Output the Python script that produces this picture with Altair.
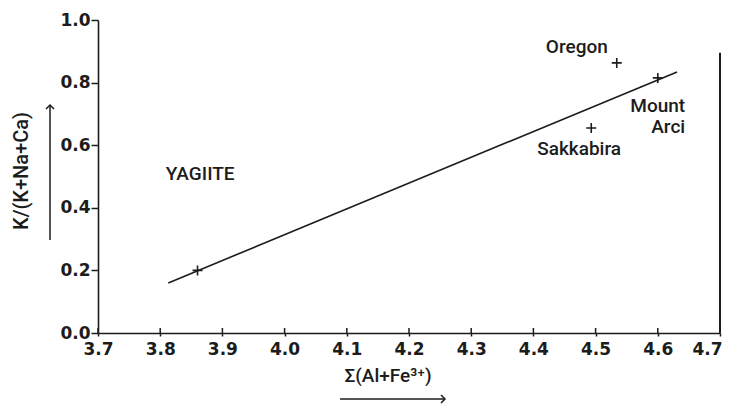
import altair as alt
import pandas as pd

# ---- data ----
x_ticks = [3.7, 3.8, 3.9, 4.0, 4.1, 4.2, 4.3, 4.4, 4.5, 4.6, 4.7]
y_ticks = [0.0, 0.2, 0.4, 0.6, 0.8, 1.0]

sample_names = ["YAGIITE", "Oregon", "Sakkabira", "Mount Arci"]
sample_x = [3.86, 4.534, 4.493, 4.60]
sample_y = [0.20, 0.863, 0.655, 0.815]

fit_x = [3.813, 4.631]
fit_y = [0.16, 0.834]

label_text = ["YAGIITE", "Oregon", "Sakkabira", "Mount", "Arci"]
label_x = [3.809, 4.420, 4.406, 4.644, 4.644]
label_y = [0.489, 0.895, 0.569, 0.706, 0.639]
label_align = ["left", "left", "left", "right", "right"]

frame_x = [4.7]
frame_y_top = [0.895]

TICKFONT = "DejaVu Sans"
FONT = "Roboto"
INK = "#1c1c1c"

xs = alt.Scale(domain=[3.7, 4.7], nice=False, zero=False)
ys = alt.Scale(domain=[0.0, 1.0], nice=False, zero=False)

pts = pd.DataFrame({"name": sample_names, "x": sample_x, "y": sample_y})
fit = pd.DataFrame({"x": fit_x, "y": fit_y})
lab = pd.DataFrame({"t": label_text, "x": label_x, "y": label_y, "a": label_align})
ticks = pd.DataFrame({"x": x_ticks})
frame = pd.DataFrame({"x": frame_x, "y": [0.0], "y2": frame_y_top})
one = pd.DataFrame({"k": [0]})

base_axes = alt.Chart(fit).mark_line(color=INK, strokeWidth=1.6).encode(
    x=alt.X("x:Q", scale=xs,
            axis=alt.Axis(values=x_ticks, format=".1f", title=None, grid=False,
                          labelFont=TICKFONT, labelFontSize=17, labelFontWeight="bold",
                          labelColor=INK,
                          domainColor=INK, domainWidth=1.6, tickColor=INK,
                          tickWidth=1.5, tickSize=3, labelPadding=5,
                          labelFlush=False,
                          labelAlign=alt.expr("datum.value > 4.65 ? 'right' : 'center'"),
                          labelOffset=alt.expr("datum.value > 4.65 ? 2 : 0"))),
    y=alt.Y("y:Q", scale=ys,
            axis=alt.Axis(values=y_ticks, format=".1f", title=None, grid=False,
                          labelFont=TICKFONT, labelFontSize=17, labelFontWeight="bold",
                          labelColor=INK,
                          domainColor=INK, domainWidth=1.6, tickColor=INK,
                          tickWidth=1.5, tickSize=7, labelPadding=1,
                          labelFlush=False)),
)

plus_path = "M-1,0L1,0M0,-1L0,1"
markers = alt.Chart(pts).mark_point(shape=plus_path, filled=False, size=100,
                                    color=INK, strokeWidth=1.6, opacity=1).encode(
    x=alt.X("x:Q", scale=xs), y=alt.Y("y:Q", scale=ys))

inner_ticks = alt.Chart(ticks).mark_rule(color=INK, strokeWidth=1.5).encode(
    x=alt.X("x:Q", scale=xs), y=alt.value(313), y2=alt.value(308))

frame_line = alt.Chart(frame).mark_rule(color=INK, strokeWidth=2).encode(
    x=alt.X("x:Q", scale=xs), y=alt.Y("y:Q", scale=ys), y2="y2:Q")

labels_left = alt.Chart(lab[lab.a == "left"]).mark_text(
    font=FONT, fontSize=19, fontWeight=500, color=INK, align="left",
    baseline="alphabetic").encode(
    x=alt.X("x:Q", scale=xs), y=alt.Y("y:Q", scale=ys), text="t:N")
labels_right = alt.Chart(lab[lab.a == "right"]).mark_text(
    font=FONT, fontSize=19, fontWeight=500, color=INK, align="right",
    baseline="alphabetic").encode(
    x=alt.X("x:Q", scale=xs), y=alt.Y("y:Q", scale=ys), text="t:N")

# axis titles and arrows (outside the plot area)
y_title = alt.Chart(one).mark_text(text="K/(K+Na+Ca)", font=FONT, fontSize=20,
                                   fontWeight=500, color=INK, angle=270,
                                   align="center", baseline="middle").encode(
    x=alt.value(-76), y=alt.value(151))
x_title = alt.Chart(one).mark_text(text="Σ(Al+Fe³⁺)", font=FONT, fontSize=19,
                                   fontWeight=500, color=INK, align="center",
                                   baseline="middle").encode(
    x=alt.value(290), y=alt.value(356))

y_shaft = alt.Chart(one).mark_rule(color=INK, strokeWidth=1.5).encode(
    x=alt.value(-48), y=alt.value(220), y2=alt.value(86))
y_head = alt.Chart(one).mark_point(shape="M-1,1L0,0L1,1", filled=False, size=64,
                                   color=INK, strokeWidth=1.5, opacity=1).encode(
    x=alt.value(-48), y=alt.value(85))
x_shaft = alt.Chart(one).mark_rule(color=INK, strokeWidth=1.5).encode(
    x=alt.value(242), x2=alt.value(346), y=alt.value(379))
x_head = alt.Chart(one).mark_point(shape="M-1,-1L0,0L-1,1", filled=False, size=64,
                                   color=INK, strokeWidth=1.5, opacity=1).encode(
    x=alt.value(347), y=alt.value(379))

chart = alt.layer(
    base_axes, inner_ticks, frame_line, markers, labels_left, labels_right,
    y_title, x_title, y_shaft, y_head, x_shaft, x_head
).properties(
    width=622, height=313,
    autosize=alt.AutoSizeParams(type="none"),
    padding={"left": 90, "top": 12, "right": 2, "bottom": 72},
    background="white",
).configure_view(stroke=None)

chart.save("out.html", embed_options={"renderer": "svg", "actions": False})
